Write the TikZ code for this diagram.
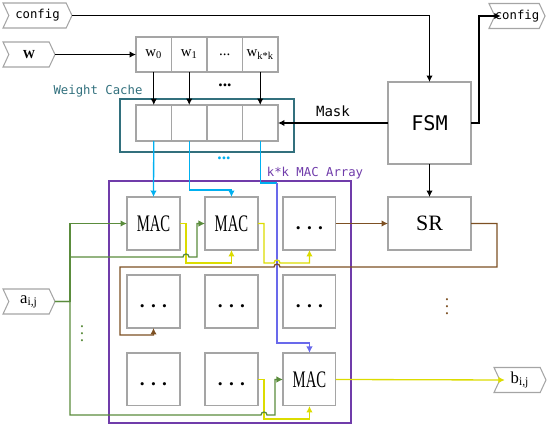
\documentclass[tikz,border=0pt]{standalone}
\usepackage{fontspec}
\setmainfont{Liberation Serif}
\newfontfamily\hei{DejaVu Sans Mono}
\usepackage{graphicx}
\usepackage{tikz}
\usetikzlibrary{shapes.symbols, arrows.meta, positioning, calc}

\definecolor{boxgray}{RGB}{165,165,165}
\definecolor{cachecol}{RGB}{50,112,125}
\definecolor{cyancol}{RGB}{0,176,240}
\definecolor{bluecol}{RGB}{105,105,235}
\definecolor{arraycol}{RGB}{112,60,170}
\definecolor{browncol}{RGB}{125,80,35}
\definecolor{yellowcol}{RGB}{220,220,0}
\definecolor{greencol}{RGB}{90,140,60}

\newcommand{\celldots}{\bfseries\vphantom{M}.\hspace{3.6pt}.\hspace{3.6pt}.}
\newcommand{\macname}{\fontsize{13.5}{13.5}\selectfont\scalebox{0.62}[1]{MAC}}

\begin{document}
\begin{tikzpicture}[
    x=0.02cm, y=-0.02cm,
    >={Latex[length=1.3mm,width=1.3mm]},
    pe/.style={draw=boxgray, line width=0.6pt, minimum size=1.06cm, inner sep=0pt, outer sep=0pt, font=\fontsize{11}{11}\selectfont},
    cell/.style={draw=boxgray, line width=0.6pt, minimum width=0.71cm, minimum height=0.7cm, inner sep=0pt, outer sep=0pt, font=\fontsize{8.5}{8.5}\selectfont},
    ctrl/.style={draw=boxgray, line width=0.6pt, minimum width=1.66cm, inner sep=0pt, outer sep=0pt},
    port/.style={signal, signal from=west, signal to=east, signal pointer angle=130, draw=boxgray, line width=0.6pt, minimum height=0.5cm, inner sep=0pt, outer sep=0pt},
    wire/.style={line width=0.75pt}
]
    \useasboundingbox (0,0) rectangle (550,426);
    % Nodes
    \node[port, minimum width=1.38cm, font=\hei\fontsize{7}{7}\selectfont] (cfgin) at (37.5,15.5) {config};
    \node[port, minimum width=1.04cm, font=\bfseries\fontsize{7}{7}\selectfont] (win) at (29,54.5) {W};
    \node[port, minimum width=1.04cm, font=\fontsize{9.5}{9.5}\selectfont] (aij) at (29,301.5) {a\textsubscript{i,j}};
    \node[port, minimum width=1.12cm, font=\hei\fontsize{7}{7}\selectfont] (cfgout) at (517,16) {config};
    \node[port, minimum width=1.04cm, font=\fontsize{9.5}{9.5}\selectfont] (bij) at (520,380) {b\textsubscript{i,j}};

    \node[cell] (w0) at (153.75,54.5) {w\textsubscript{0}};
    \node[cell, right=0cm of w0] (w1) {w\textsubscript{1}};
    \node[cell, right=0cm of w1] (w2) {...};
    \node[cell, right=0cm of w2] (w3) {w\textsubscript{k*k}};

    \node[draw=cachecol, line width=0.7pt, minimum width=3.48cm, minimum height=1.06cm] (cache) at (207,125.5) {};
    \node[text=cachecol, font=\hei\fontsize{7}{7}\selectfont] (cachelabel) at (98,91) {Weight Cache};
    \node[cell, minimum height=0.72cm] (c0) at (153.75,123) {};
    \node[cell, minimum height=0.72cm, right=0cm of c0] (c1) {};
    \node[cell, minimum height=0.72cm, right=0cm of c1] (c2) {};
    \node[cell, minimum height=0.72cm, right=0cm of c2] (c3) {};
    \node[font=\bfseries\fontsize{10}{10}\selectfont] (wdots) at (225,85) {...};
    \node[text=cyancol, font=\bfseries\fontsize{10}{10}\selectfont] (cdots) at (224,158) {...};

    \node[ctrl, minimum height=1.64cm, font=\hei\fontsize{11.5}{11.5}\selectfont] (fsm) at (429.5,123) {FSM};
    \node[ctrl, minimum height=1.06cm, font=\fontsize{12.5}{12.5}\selectfont] (sr) at (429.5,223.5) {SR};

    \node[draw=arraycol, line width=0.7pt, minimum size=4.84cm] (array) at (230,302) {};
    \node[text=arraycol, font=\hei\fontsize{7}{7}\selectfont] (arraylabel) at (315,173) {k*k MAC Array};

    \node[pe] (mac11) at (153.5,223.5) {\macname};
    \node[pe, right=0.5cm of mac11] (mac12) {\macname};
    \node[pe, right=0.5cm of mac12] (mac13) {\celldots};
    \node[pe, below=0.5cm of mac11] (mac21) {\celldots};
    \node[pe, right=0.5cm of mac21] (mac22) {\celldots};
    \node[pe, right=0.5cm of mac22] (mac23) {\celldots};
    \node[pe, below=0.5cm of mac21] (mac31) {\celldots};
    \node[pe, right=0.5cm of mac31] (mac32) {\celldots};
    \node[pe, right=0.5cm of mac32] (mac33) {\macname};

    \node[text=greencol] (adots) at (82,328) {$\vdots$};
    \node[text=browncol] (srdots) at (447,301) {$\vdots$};

    \coordinate (bendc) at (277,183);

    % Connections
    \draw[wire, ->] (cfgin.east) -| (fsm.north);
    \draw[wire, ->] (fsm.east) -- ++(8,0) |- ($(cfgout.west)+(6,0)$);
    \draw[wire, ->] (win.east) -- (w0.west);
    \draw[wire, ->] (w0.south) -- (c0.north);
    \draw[wire, ->] (w1.south) -- (c1.north);
    \draw[wire, ->] (w3.south) -- (c3.north);
    \draw[wire, ->] (fsm.west) -- node[above, font=\hei\fontsize{8}{8}\selectfont] {Mask} (c3.east);
    \draw[wire, ->] (fsm.south) -- (sr.north);

    % weights into the array
    \draw[wire, cyancol, ->] (c0.south) -- (mac11.north);
    \draw[wire, cyancol, ->] (c1.south) -- ++(0,49) -| (mac12.north);
    \draw[wire, cyancol] (c3.south) |- (bendc);
    \draw[wire, bluecol, ->] (bendc) -- (277,343) -| (mac33.north);

    % partial sums
    \draw[wire, yellowcol, ->] (mac11.east) -- ++(6,0) -- ++(0,39.5) -| (mac12.south);
    \draw[wire, yellowcol, ->] (mac12.east) -- ++(6,0) -- ++(0,39.5) -- (274,263)
        arc[start angle=180, end angle=0, radius=0.06cm] -| (mac13.south);
    \draw[wire, yellowcol, ->] (mac32.east) -- ++(6,0) -- ++(0,39.5) -| (mac33.south);
    \draw[wire, yellowcol, ->] (mac33.east) -- ($(bij.west)+(5,0)$);

    % shift register loop
    \draw[wire, browncol, ->] (mac13.east) -- (sr.west);
    \draw[wire, browncol, ->] (sr.east) -- ++(26,0) |- (280,267)
        arc[start angle=0, end angle=180, radius=0.06cm] -- (120,267) -- (120,335) -| (mac21.south);

    % activations
    \draw[wire, greencol, ->] (aij.east) -- ++(15,0) |- (mac11.west);
    \draw[wire, greencol, ->] (aij.east) -- ++(15,0) |- (183,257)
        arc[start angle=180, end angle=0, radius=0.06cm] -- (197,257) |- (mac12.west);
    \draw[wire, greencol, ->] (aij.east) -- ++(15,0) |- (261,415)
        arc[start angle=180, end angle=0, radius=0.06cm] -- (275,415) |- (mac33.west);
\end{tikzpicture}
\end{document}
